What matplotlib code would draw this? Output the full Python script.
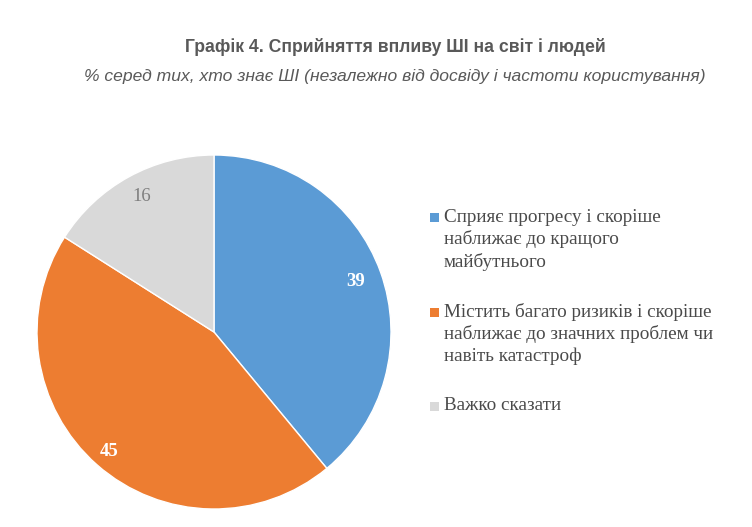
import numpy as np
import matplotlib.pyplot as plt
from matplotlib.patches import Rectangle

labels = ['Сприяє прогресу і скоріше\nнаближає до кращого\nмайбутнього',
          'Містить багато ризиків і скоріше\nнаближає до значних проблем чи\nнавіть катастроф',
          'Важко сказати']
values = [39, 45, 16]
colors = ['#5B9BD5', '#ED7D31', '#D9D9D9']
label_colors = ['white', 'white', '#7F7F7F']
label_weights = ['bold', 'bold', 'normal']

fig = plt.figure(figsize=(7.52, 5.27), dpi=100)
W, H = 752, 527
cx, cy, r = 214, 332, 177
ax = fig.add_axes([(cx - r) / W, (H - cy - r) / H, 2 * r / W, 2 * r / H])

wedges, _ = ax.pie(values, colors=colors, startangle=90, counterclock=False,
                   radius=1, wedgeprops=dict(edgecolor='white', linewidth=1))
ax.set_xlim(-1, 1)
ax.set_ylim(-1, 1)
ax.set_aspect('equal')
ax.axis('off')

dists = [0.85, 0.9, 0.87]
for w, v, c, fw, d in zip(wedges, values, label_colors, label_weights, dists):
    ang = np.deg2rad((w.theta1 + w.theta2) / 2)
    if v == 16:
        ang = np.deg2rad(118)
    ax.text(d * np.cos(ang), d * np.sin(ang), str(v), ha='center', va='center',
            color=c, fontsize=13.5, fontweight=fw, family='Liberation Serif')

fig.text(395 / W, 1 - 47 / H, 'Графік 4. Сприйняття впливу ШІ на світ і людей',
         ha='center', va='center', fontsize=12.7, fontweight='bold',
         color='#595959', family='Liberation Sans')
fig.text(395 / W, 1 - 77 / H,
         '% серед тих, хто знає ШІ (незалежно від досвіду і частоти користування)',
         ha='center', va='center', fontsize=12.6, style='italic',
         color='#595959', family='Liberation Sans')

# legend: marker beside first line of each entry
for i, (lab, c) in enumerate(zip(labels, colors)):
    y0 = 218 + i * 94
    fig.patches.append(Rectangle((430 / W, 1 - (y0 + 4.5) / H), 9 / W, 9 / H,
                                 transform=fig.transFigure, facecolor=c,
                                 edgecolor='none'))
    fig.text(444 / W, 1 - (y0 - 9) / H, lab, ha='left', va='top',
             fontsize=13.8, family='Liberation Serif', color='#4a4a4a',
             linespacing=1.32)

fig.savefig('out.png', dpi=100)
